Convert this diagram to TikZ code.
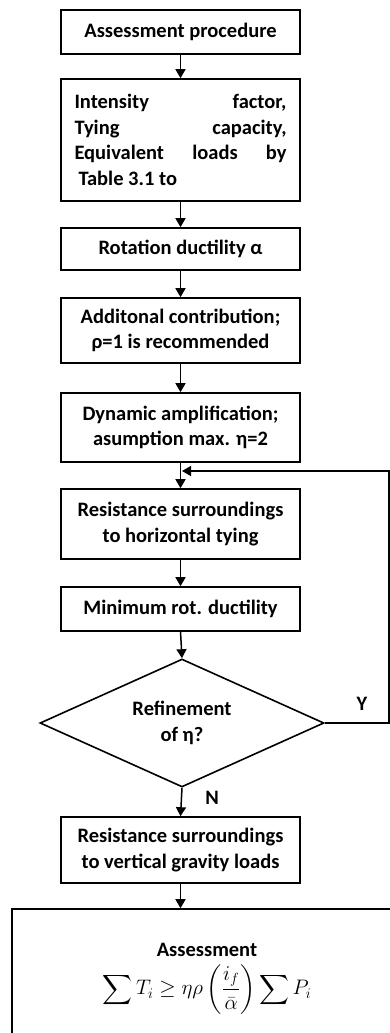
\RequirePackage{fix-cm}
\documentclass[tikz,border=0pt]{standalone}
\usepackage{amsmath}
\usepackage{exscale}
\usepackage{fontspec}
\setmainfont{Carlito}
\usetikzlibrary{shapes.geometric,arrows.meta}

\tikzset{
  stepbox/.style={draw=black, line width=1.6pt, minimum width=239pt, align=center,
    inner sep=0pt, font=\fontsize{20.5}{25.7}\selectfont\bfseries},
  decision/.style={draw=black, line width=1.6pt, shape=diamond, aspect=2.2,
    minimum width=284pt, minimum height=128pt, inner sep=0pt, align=center,
    font=\fontsize{20.5}{25.7}\selectfont\bfseries},
  flow/.style={line width=1.5pt, -{Triangle[length=9pt,width=10pt]}},
  lbl/.style={font=\fontsize{20.5}{24}\selectfont\bfseries}
}

\begin{document}
\begin{tikzpicture}[x=1pt,y=-1pt]
  \useasboundingbox (0,0) rectangle (390,1033);
  \clip (0,0) rectangle (390,1033);

  \node[stepbox, minimum height=44pt] (b1) at (180.5,32) {Assessment procedure};
  \node[stepbox, minimum height=122pt] (b2) at (180.5,140)
    {\parbox{212pt}{\fontsize{20.5}{25.7}\selectfont\bfseries
      Intensity\hfill factor,\\
      Tying\hfill capacity,\\
      Equivalent\hfill loads\hfill by\\
      \hspace*{4pt}Table 3.1 to}};
  \node[stepbox, minimum height=42pt] (b3) at (180.5,249) {Rotation ductility α};
  \node[stepbox, minimum height=65pt] (b4) at (180.5,330.5)
    {Additonal contribution;\\ ρ=1 is recommended};
  \node[stepbox, minimum height=69pt] (b5) at (180.5,427.5)
    {Dynamic amplification;\\ asumption max. η=2};
  \node[stepbox, minimum height=70pt] (b6) at (180.5,524)
    {Resistance surroundings\\ to horizontal tying};
  \node[stepbox, minimum height=44pt] (b7) at (180.5,609) {Minimum rot. ductility};
  \node[decision] (d1) at (182,723) {Refinement\\ of η?};
  \node[stepbox, minimum height=66pt] (b8) at (180.5,850)
    {Resistance surroundings\\ to vertical gravity loads};
  \node[stepbox, minimum width=390pt, minimum height=140pt] (b9) at (207,979)
    {Assessment\\[7pt]
     {\normalfont\fontsize{21}{24}\selectfont
      $\displaystyle\sum T_i \geq \eta\rho\left(\frac{i_f}{\bar{\alpha}}\right)\sum P_i$}};

  % main sequence
  \draw[flow] (b1) -- (b2);
  \draw[flow] (b2) -- (b3);
  \draw[flow] (b3) -- (b4);
  \draw[flow] (b4) -- (b5);
  \draw[flow] (b5) -- (b6);
  \draw[flow] (b6) -- (b7);
  \draw[flow] (b7.south) -- (d1.north);
  \draw[flow] (d1.south) -- (b8.north);
  \draw[flow] (b8) -- (b9.north -| b8);

  % refinement loop back above the tying step
  \coordinate (r1) at (389,723);
  \coordinate (r2) at (389,471);
  \coordinate (r3) at (182,471);
  \draw[flow] (d1.east) -- (r1) -- (r2) -- (r3);

  \node[lbl] (ly) at (362,704) {Y};
  \node[lbl] (ln) at (212,798) {N};
\end{tikzpicture}
\end{document}
